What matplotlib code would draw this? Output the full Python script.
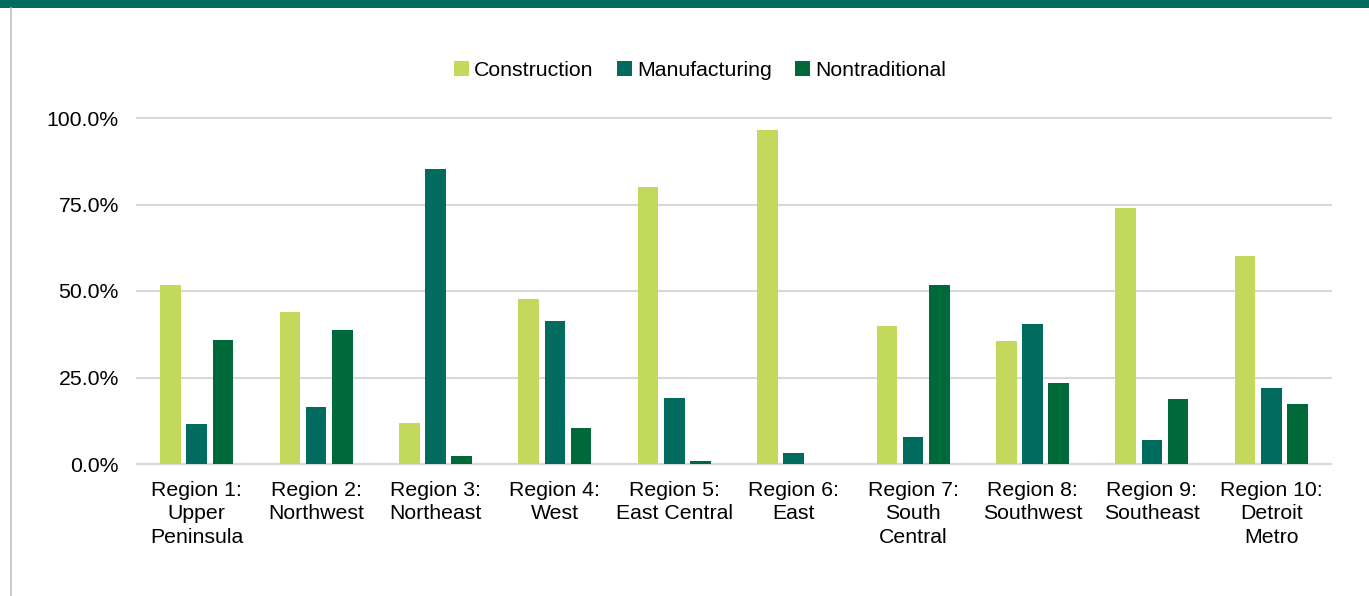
import matplotlib as mpl
mpl.use('Agg')
import matplotlib.pyplot as plt
from matplotlib.patches import Rectangle
from matplotlib.lines import Line2D
import numpy as np

plt.rcParams['font.family'] = ['Liberation Sans', 'DejaVu Sans']

regions = ['Region 1:\nUpper\nPeninsula', 'Region 2:\nNorthwest', 'Region 3:\nNortheast',
           'Region 4:\nWest', 'Region 5:\nEast Central', 'Region 6:\nEast',
           'Region 7:\nSouth\nCentral', 'Region 8:\nSouthwest', 'Region 9:\nSoutheast',
           'Region 10:\nDetroit\nMetro']
construction = [51.8, 43.9, 11.9, 47.7, 80.0, 96.4, 39.9, 35.6, 74.1, 60.1]
manufacturing = [11.7, 16.6, 85.3, 41.4, 19.0, 3.3, 7.8, 40.5, 6.8, 22.0]
nontraditional = [35.9, 38.8, 2.3, 10.4, 0.9, 0.0, 51.8, 23.4, 18.8, 17.4]
series = ['Construction', 'Manufacturing', 'Nontraditional']
colors = ['#C2D95B', '#006B5E', '#00693A']

fsz = 15.3

fig = plt.figure(figsize=(13.69, 5.96), dpi=100)
# top band and left border
fig.patches.append(Rectangle((0, 1 - 8/596.), 1, 8/596., transform=fig.transFigure,
                             facecolor='#006B5E', edgecolor='none', zorder=0))
fig.lines.append(Line2D([10.5/1369., 10.5/1369.], [0, 1 - 8/596.], transform=fig.transFigure,
                        color='#BFBFBF', lw=1.2))

ax = fig.add_axes([137/1369., 1 - 464/596., (1331-137)/1369., (464-118)/596.])
x = np.arange(len(regions))
off = 0.22
w = 0.172
for i, (vals, name) in enumerate(zip([construction, manufacturing, nontraditional], series)):
    ax.bar(x + (i-1)*off, vals, w, color=colors[i], label=name, zorder=3)

ax.set_xlim(-0.5, len(regions)-0.5)
ax.set_ylim(0, 100)
ax.set_yticks([0, 25, 50, 75, 100])
ax.set_yticklabels(['%.1f%%' % v for v in [0, 25, 50, 75, 100]])
ax.set_xticks(x)
ax.set_xticklabels(regions, linespacing=1.3)
ax.grid(axis='y', color='#D9D9D9', lw=1.5, zorder=0)
for s in ['top', 'right', 'left']:
    ax.spines[s].set_visible(False)
ax.spines['bottom'].set_color('#D9D9D9')
ax.spines['bottom'].set_linewidth(1.5)
ax.tick_params(axis='both', length=0, labelsize=fsz, colors='#000000')
ax.tick_params(axis='y', pad=13)
ax.tick_params(axis='x', pad=12)
for gl in ax.get_ygridlines():
    gl.set_clip_on(False)

fig.legend(loc='center', bbox_to_anchor=(700/1369., 1 - 70/596.), ncol=3, frameon=False,
           fontsize=fsz, handlelength=0.7, handleheight=0.7, handletextpad=0.25,
           columnspacing=1.1)

plt.savefig('out.png', dpi=100)
